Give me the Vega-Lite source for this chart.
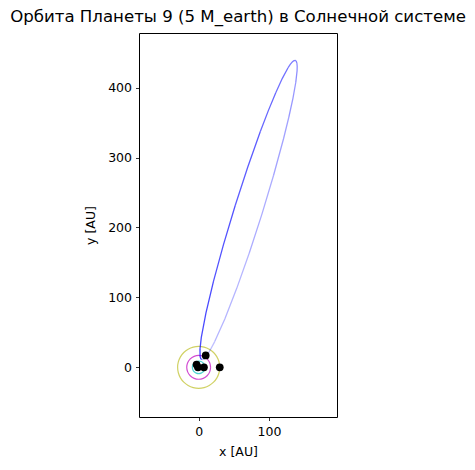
{
  "$schema": "https://vega.github.io/schema/vega-lite/v6.json",
  "width": 198,
  "height": 384,
  "autosize": {"type": "none"},
  "padding": {"left": 139, "top": 33, "right": 138, "bottom": 53},
  "background": "white",
  "title": {"text": "Орбита Планеты 9 (5 M_earth) в Солнечной системе", "font": "DejaVu Sans", "fontSize": 16.6, "fontWeight": "normal", "color": "black", "anchor": "middle", "frame": "group", "offset": 7},
  "config": {
    "view": {"stroke": "black", "strokeWidth": 1},
    "axis": {"grid": false, "domain": false, "tickColor": "black", "tickSize": 3.5, "tickWidth": 0.8, "labelFont": "DejaVu Sans", "labelFontSize": 12.5, "labelColor": "black", "titleFont": "DejaVu Sans", "titleFontSize": 12.5, "titleFontWeight": "normal", "titleColor": "black", "labelPadding": 4}
  },
  "datasets": {
    "orbits": [
      {"body": "Нептун", "i": 0, "x": 30, "y": 0},
      {"body": "Нептун", "i": 1, "x": 28.98, "y": 7.76},
      {"body": "Нептун", "i": 2, "x": 25.98, "y": 15},
      {"body": "Нептун", "i": 3, "x": 21.21, "y": 21.21},
      {"body": "Нептун", "i": 4, "x": 15, "y": 25.98},
      {"body": "Нептун", "i": 5, "x": 7.76, "y": 28.98},
      {"body": "Нептун", "i": 6, "x": 0, "y": 30},
      {"body": "Нептун", "i": 7, "x": -7.76, "y": 28.98},
      {"body": "Нептун", "i": 8, "x": -15, "y": 25.98},
      {"body": "Нептун", "i": 9, "x": -21.21, "y": 21.21},
      {"body": "Нептун", "i": 10, "x": -25.98, "y": 15},
      {"body": "Нептун", "i": 11, "x": -28.98, "y": 7.76},
      {"body": "Нептун", "i": 12, "x": -30, "y": 0},
      {"body": "Нептун", "i": 13, "x": -28.98, "y": -7.76},
      {"body": "Нептун", "i": 14, "x": -25.98, "y": -15},
      {"body": "Нептун", "i": 15, "x": -21.21, "y": -21.21},
      {"body": "Нептун", "i": 16, "x": -15, "y": -25.98},
      {"body": "Нептун", "i": 17, "x": -7.76, "y": -28.98},
      {"body": "Нептун", "i": 18, "x": 0, "y": -30},
      {"body": "Нептун", "i": 19, "x": 7.76, "y": -28.98},
      {"body": "Нептун", "i": 20, "x": 15, "y": -25.98},
      {"body": "Нептун", "i": 21, "x": 21.21, "y": -21.21},
      {"body": "Нептун", "i": 22, "x": 25.98, "y": -15},
      {"body": "Нептун", "i": 23, "x": 28.98, "y": -7.76},
      {"body": "Нептун", "i": 24, "x": 30, "y": 0},
      {"body": "Уран", "i": 0, "x": 17, "y": 0},
      {"body": "Уран", "i": 1, "x": 15.71, "y": 6.51},
      {"body": "Уран", "i": 2, "x": 12.02, "y": 12.02},
      {"body": "Уран", "i": 3, "x": 6.51, "y": 15.71},
      {"body": "Уран", "i": 4, "x": 0, "y": 17},
      {"body": "Уран", "i": 5, "x": -6.51, "y": 15.71},
      {"body": "Уран", "i": 6, "x": -12.02, "y": 12.02},
      {"body": "Уран", "i": 7, "x": -15.71, "y": 6.51},
      {"body": "Уран", "i": 8, "x": -17, "y": 0},
      {"body": "Уран", "i": 9, "x": -15.71, "y": -6.51},
      {"body": "Уран", "i": 10, "x": -12.02, "y": -12.02},
      {"body": "Уран", "i": 11, "x": -6.51, "y": -15.71},
      {"body": "Уран", "i": 12, "x": 0, "y": -17},
      {"body": "Уран", "i": 13, "x": 6.51, "y": -15.71},
      {"body": "Уран", "i": 14, "x": 12.02, "y": -12.02},
      {"body": "Уран", "i": 15, "x": 15.71, "y": -6.51},
      {"body": "Уран", "i": 16, "x": 17, "y": 0},
      {"body": "Сатурн", "i": 0, "x": 9, "y": 0},
      {"body": "Сатурн", "i": 1, "x": 8.31, "y": 3.44},
      {"body": "Сатурн", "i": 2, "x": 6.36, "y": 6.36},
      {"body": "Сатурн", "i": 3, "x": 3.44, "y": 8.31},
      {"body": "Сатурн", "i": 4, "x": 0, "y": 9},
      {"body": "Сатурн", "i": 5, "x": -3.44, "y": 8.31},
      {"body": "Сатурн", "i": 6, "x": -6.36, "y": 6.36},
      {"body": "Сатурн", "i": 7, "x": -8.31, "y": 3.44},
      {"body": "Сатурн", "i": 8, "x": -9, "y": 0},
      {"body": "Сатурн", "i": 9, "x": -8.31, "y": -3.44},
      {"body": "Сатурн", "i": 10, "x": -6.36, "y": -6.36},
      {"body": "Сатурн", "i": 11, "x": -3.44, "y": -8.31},
      {"body": "Сатурн", "i": 12, "x": 0, "y": -9},
      {"body": "Сатурн", "i": 13, "x": 3.44, "y": -8.31},
      {"body": "Сатурн", "i": 14, "x": 6.36, "y": -6.36},
      {"body": "Сатурн", "i": 15, "x": 8.31, "y": -3.44},
      {"body": "Сатурн", "i": 16, "x": 9, "y": 0}
    ],
    "p9": [
      {"seg": 1, "i": 0, "x": 4.36, "y": 11.15},
      {"seg": 1, "i": 1, "x": 6.27, "y": 11.44},
      {"seg": 1, "i": 2, "x": 8.68, "y": 13.37},
      {"seg": 1, "i": 3, "x": 14.91, "y": 22.01},
      {"seg": 1, "i": 4, "x": 22.84, "y": 36.82},
      {"seg": 2, "i": 4, "x": 22.84, "y": 36.82},
      {"seg": 2, "i": 5, "x": 37.38, "y": 69.58},
      {"seg": 2, "i": 6, "x": 54.21, "y": 112.92},
      {"seg": 2, "i": 7, "x": 72.19, "y": 163.91},
      {"seg": 3, "i": 7, "x": 72.19, "y": 163.91},
      {"seg": 3, "i": 8, "x": 90.09, "y": 219.05},
      {"seg": 3, "i": 9, "x": 106.69, "y": 274.59},
      {"seg": 4, "i": 9, "x": 106.69, "y": 274.59},
      {"seg": 4, "i": 10, "x": 120.85, "y": 326.78},
      {"seg": 4, "i": 11, "x": 128.46, "y": 357.9},
      {"seg": 5, "i": 11, "x": 128.46, "y": 357.9},
      {"seg": 5, "i": 12, "x": 134.32, "y": 384.99},
      {"seg": 5, "i": 13, "x": 138.26, "y": 407.22},
      {"seg": 6, "i": 13, "x": 138.26, "y": 407.22},
      {"seg": 6, "i": 14, "x": 140.15, "y": 423.93},
      {"seg": 6, "i": 15, "x": 140.31, "y": 430.02},
      {"seg": 6, "i": 16, "x": 139.94, "y": 434.57},
      {"seg": 7, "i": 16, "x": 139.94, "y": 434.57},
      {"seg": 7, "i": 17, "x": 139.05, "y": 437.52},
      {"seg": 7, "i": 18, "x": 137.64, "y": 438.85},
      {"seg": 7, "i": 19, "x": 135.73, "y": 438.56},
      {"seg": 8, "i": 19, "x": 135.73, "y": 438.56},
      {"seg": 8, "i": 20, "x": 133.32, "y": 436.63},
      {"seg": 8, "i": 21, "x": 130.43, "y": 433.1},
      {"seg": 8, "i": 22, "x": 127.09, "y": 427.99},
      {"seg": 9, "i": 22, "x": 127.09, "y": 427.99},
      {"seg": 9, "i": 23, "x": 119.16, "y": 413.18},
      {"seg": 9, "i": 24, "x": 109.78, "y": 392.63},
      {"seg": 10, "i": 24, "x": 109.78, "y": 392.63},
      {"seg": 10, "i": 25, "x": 99.22, "y": 367.02},
      {"seg": 10, "i": 26, "x": 87.79, "y": 337.08},
      {"seg": 11, "i": 26, "x": 87.79, "y": 337.08},
      {"seg": 11, "i": 27, "x": 69.81, "y": 286.09},
      {"seg": 11, "i": 28, "x": 51.91, "y": 230.95},
      {"seg": 12, "i": 28, "x": 51.91, "y": 230.95},
      {"seg": 12, "i": 29, "x": 35.31, "y": 175.41},
      {"seg": 12, "i": 30, "x": 21.15, "y": 123.22},
      {"seg": 13, "i": 30, "x": 21.15, "y": 123.22},
      {"seg": 13, "i": 31, "x": 10.38, "y": 78.0},
      {"seg": 13, "i": 32, "x": 3.74, "y": 42.78},
      {"seg": 13, "i": 33, "x": 1.85, "y": 26.07},
      {"seg": 14, "i": 33, "x": 1.85, "y": 26.07},
      {"seg": 14, "i": 34, "x": 2.06, "y": 15.43},
      {"seg": 14, "i": 35, "x": 2.95, "y": 12.48},
      {"seg": 14, "i": 36, "x": 4.36, "y": 11.15}
    ],
    "bodies": [
      {"x": -3, "y": 4},
      {"x": -1, "y": 0},
      {"x": 7.5, "y": 0},
      {"x": 30, "y": 0},
      {"x": 10, "y": 17}
    ]
  },
  "encoding": {
    "x": {"field": "x", "type": "quantitative", "title": "x [AU]", "scale": {"domain": [-85, 197], "nice": false, "zero": false}, "axis": {"values": [0, 100], "titlePadding": 7, "labelPadding": 5}},
    "y": {"field": "y", "type": "quantitative", "title": "y [AU]", "scale": {"domain": [-71, 478], "nice": false, "zero": false}, "axis": {"values": [0, 100, 200, 300, 400], "titlePadding": 10}}
  },
  "layer": [
    {
      "data": {"name": "orbits"},
      "mark": {"type": "line", "strokeWidth": 1.2, "opacity": 0.7, "interpolate": "cardinal", "clip": true},
      "encoding": {
        "detail": {"field": "body"},
        "order": {"field": "i", "type": "quantitative"},
        "color": {"field": "body", "type": "nominal", "legend": null, "scale": {"domain": ["Нептун", "Уран", "Сатурн"], "range": ["#bcbd22", "#bf00bf", "#00bfbf"]}}
      }
    },
    {
      "data": {"name": "p9"},
      "mark": {"type": "line", "strokeWidth": 1.3, "color": "#0000ff", "clip": true},
      "encoding": {
        "detail": {"field": "seg"},
        "order": {"field": "i", "type": "quantitative"},
        "opacity": {"field": "seg", "type": "quantitative", "legend": null, "scale": {"domain": [1, 14], "range": [0.25, 0.75]}}
      }
    },
    {
      "data": {"name": "bodies"},
      "mark": {"type": "point", "filled": true, "color": "black", "opacity": 1, "size": 60, "clip": true},
      "encoding": {}
    }
  ]
}
